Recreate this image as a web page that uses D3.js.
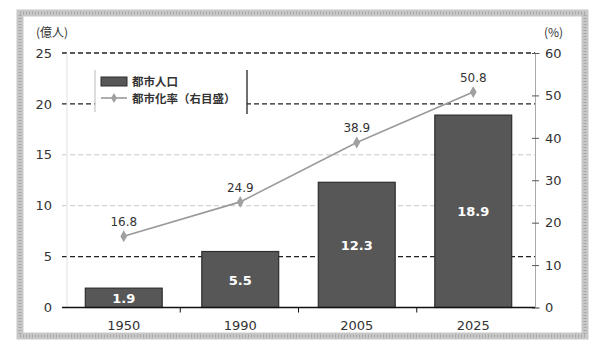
<!DOCTYPE html>
<html>
<head>
<meta charset="utf-8">
<script src="https://cdn.jsdelivr.net/npm/d3@7"></script>
<style>
  html, body { margin: 0; padding: 0; background: #fff; }
  svg { display: block; font-family: "Noto Sans CJK JP", "Noto Sans", sans-serif; }
</style>
</head>
<body>
<svg id="chart" width="600" height="343"></svg>
<script>
// Urban population (億人) and urbanisation rate (%) by year
const years = ["1950", "1990", "2005", "2025"];
const urbanPop = [1.9, 5.5, 12.3, 18.9];
const urbanRate = [16.8, 24.9, 38.9, 50.8];
const leftTicks = [0, 5, 10, 15, 20, 25];
const rightTicks = [0, 10, 20, 30, 40, 50, 60];
const legendLabels = ["都市人口", "都市化率（右目盛）"];
const leftUnit = "(億人)";
const rightUnit = "(%)";

const svg = d3.select("#chart");
const W = 600, H = 343;
const m = { left: 62, right: 535, top: 53, bottom: 307.5 };

// Textured frame around the chart panel
svg.append("rect").attr("x", 0).attr("y", 0).attr("width", W).attr("height", H).attr("fill", "#fff");
svg.append("rect").attr("x", 20).attr("y", 13).attr("width", 565).attr("height", 323)
  .attr("fill", "none").attr("stroke", "#c8c8c8").attr("stroke-width", 7);
svg.append("rect").attr("x", 20).attr("y", 13).attr("width", 565).attr("height", 323)
  .attr("fill", "none").attr("stroke", "#8c8c8c").attr("stroke-width", 3)
  .attr("stroke-dasharray", "1 2").attr("opacity", 0.55);

const x = d3.scaleBand().domain(years).range([m.left, m.right]).paddingInner(0.34).paddingOuter(0.2);
const xb = d3.scaleBand().domain(years).range([m.left, m.right]);
const yL = d3.scaleLinear().domain([0, 25]).range([m.bottom, m.top]);
const yR = d3.scaleLinear().domain([0, 60]).range([m.bottom, m.top]);

// Horizontal gridlines (dark at 5, 20, 25; light at 10, 15)
const dark = new Set([5, 20, 25]);
svg.append("g").selectAll("line").data(leftTicks.filter(d => d > 0)).join("line")
  .attr("x1", m.left).attr("x2", m.right)
  .attr("y1", d => yL(d)).attr("y2", d => yL(d))
  .attr("stroke", d => dark.has(d) ? "#222" : "#c8c8c8")
  .attr("stroke-width", d => dark.has(d) ? 1.3 : 1)
  .attr("stroke-dasharray", "5 3");

// Faint left axis line
svg.append("line").attr("x1", m.left + 5).attr("x2", m.left + 5)
  .attr("y1", m.top).attr("y2", m.bottom).attr("stroke", "#e2e2e2");

// Left axis labels
const leftAxis = d3.axisLeft(yL).tickValues(leftTicks).tickSize(0).tickPadding(10);
const gL = svg.append("g").attr("transform", `translate(${m.left},0)`).call(leftAxis);
gL.select(".domain").remove();
gL.selectAll("text").attr("font-size", 13).attr("fill", "#333").attr("font-family", "DejaVu Sans, sans-serif");
svg.append("text").attr("x", 36).attr("y", 37).attr("font-size", 12).attr("fill", "#333").text(leftUnit);

// Right axis
const rightAxis = d3.axisRight(yR).tickValues(rightTicks).tickSize(5).tickPadding(5);
const gR = svg.append("g").attr("transform", `translate(${m.right},0)`).call(rightAxis);
gR.select(".domain").attr("stroke", "#aaa");
gR.selectAll(".tick line").attr("stroke", "#555").attr("x1", -3).attr("x2", 4);
gR.selectAll("text").attr("font-size", 13).attr("fill", "#333").attr("font-family", "DejaVu Sans, sans-serif");
svg.append("text").attr("x", 544).attr("y", 37).attr("font-size", 12).attr("fill", "#333").text(rightUnit);

// Bars
svg.append("g").selectAll("rect").data(years).join("rect")
  .attr("x", d => x(d)).attr("width", x.bandwidth())
  .attr("y", (d, i) => yL(urbanPop[i]))
  .attr("height", (d, i) => yL(0) - yL(urbanPop[i]))
  .attr("fill", "#575757").attr("stroke", "#2e2e2e").attr("stroke-width", 1.2);

// Bar value labels
svg.append("g").selectAll("text").data(years).join("text")
  .attr("x", d => x(d) + x.bandwidth() / 2)
  .attr("y", (d, i) => (yL(urbanPop[i]) + yL(0)) / 2 + 5)
  .attr("text-anchor", "middle").attr("font-size", 13).attr("font-weight", "bold")
  .attr("fill", "#fff").attr("font-family", "DejaVu Sans, sans-serif")
  .text((d, i) => urbanPop[i].toFixed(1));

// X axis baseline with boundary ticks
svg.append("line").attr("x1", m.left).attr("x2", m.right)
  .attr("y1", m.bottom).attr("y2", m.bottom).attr("stroke", "#111").attr("stroke-width", 1.6);
svg.append("g").selectAll("line").data(years.slice(1)).join("line")
  .attr("x1", d => xb(d)).attr("x2", d => xb(d))
  .attr("y1", m.bottom).attr("y2", m.bottom + 5).attr("stroke", "#111");
svg.append("g").selectAll("text").data(years).join("text")
  .attr("x", d => x(d) + x.bandwidth() / 2).attr("y", 330)
  .attr("text-anchor", "middle").attr("font-size", 13).attr("fill", "#333")
  .attr("font-family", "DejaVu Sans, sans-serif").text(d => d);

// Urbanisation rate line with diamond markers
const line = d3.line().x((d, i) => x(years[i]) + x.bandwidth() / 2).y(d => yR(d));
svg.append("path").datum(urbanRate).attr("d", line)
  .attr("fill", "none").attr("stroke", "#9a9a9a").attr("stroke-width", 1.6);
svg.append("g").selectAll("path").data(urbanRate).join("path")
  .attr("d", d3.symbol(d3.symbolDiamond, 40))
  .attr("transform", (d, i) => `translate(${x(years[i]) + x.bandwidth() / 2},${yR(d)})`)
  .attr("fill", "#a0a0a0");
svg.append("g").selectAll("text").data(urbanRate).join("text")
  .attr("x", (d, i) => x(years[i]) + x.bandwidth() / 2)
  .attr("y", d => yR(d) - 10)
  .attr("text-anchor", "middle").attr("font-size", 12).attr("fill", "#333")
  .attr("font-family", "DejaVu Sans, sans-serif").text(d => d.toFixed(1));

// Legend
const lg = svg.append("g");
lg.append("rect").attr("x", 95).attr("y", 70).attr("width", 152).attr("height", 42).attr("fill", "#fff");
lg.append("line").attr("x1", 95).attr("x2", 95).attr("y1", 70).attr("y2", 112).attr("stroke", "#bbb");
lg.append("line").attr("x1", 247).attr("x2", 247).attr("y1", 70).attr("y2", 114).attr("stroke", "#222").attr("stroke-width", 1.3);
lg.append("rect").attr("x", 101).attr("y", 77).attr("width", 26).attr("height", 9)
  .attr("fill", "#575757").attr("stroke", "#2e2e2e");
lg.append("line").attr("x1", 101).attr("x2", 127).attr("y1", 98).attr("y2", 98)
  .attr("stroke", "#9a9a9a").attr("stroke-width", 1.6);
lg.append("path").attr("d", d3.symbol(d3.symbolDiamond, 30)).attr("transform", "translate(114,98)").attr("fill", "#a0a0a0");
lg.selectAll("text").data(legendLabels).join("text")
  .attr("x", 132).attr("y", (d, i) => 85.5 + i * 17)
  .attr("font-size", 11.5).attr("font-weight", "bold").attr("fill", "#333").text(d => d);
</script>
</body>
</html>
